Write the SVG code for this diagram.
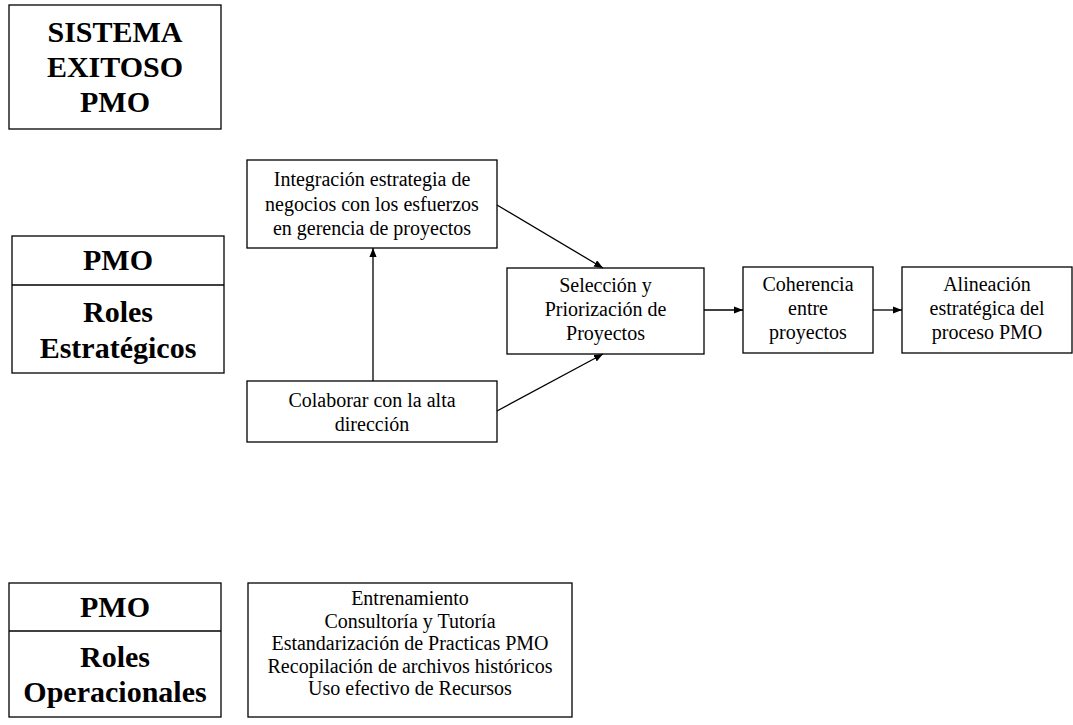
<svg xmlns="http://www.w3.org/2000/svg" width="1073" height="725" viewBox="0 0 1073 725">
  <style>
    .box { fill: #fff; stroke: #000; stroke-width: 1.3; }
    .div { stroke: #000; stroke-width: 1.3; }
    .t { font-family: "Liberation Serif", "Times New Roman", serif; font-size: 20px; fill: #000; text-anchor: middle; }
    .b { font-family: "Liberation Serif", "Times New Roman", serif; font-size: 30px; font-weight: bold; fill: #000; text-anchor: middle; }
    .link { stroke: #000; stroke-width: 1.3; fill: none; marker-end: url(#arrow); }
  </style>
  <defs>
    <marker id="arrow" viewBox="0 0 10 8" refX="10" refY="4" markerWidth="9" markerHeight="7.2" markerUnits="userSpaceOnUse" orient="auto">
      <path d="M0,0 L10,4 L0,8 z" fill="#000"/>
    </marker>
  </defs>
  <rect width="1073" height="725" fill="#fff"/>

  <!-- title block -->
  <g id="sistema-exitoso">
    <rect class="box" x="9" y="5" width="212" height="124"/>
    <text class="b" x="115" y="42">SISTEMA</text>
    <text class="b" x="115" y="77">EXITOSO</text>
    <text class="b" x="115" y="112">PMO</text>
  </g>

  <!-- strategic roles header -->
  <g id="roles-estrategicos">
    <rect class="box" x="12" y="236" width="212" height="137"/>
    <line class="div" x1="12" y1="285" x2="224" y2="285"/>
    <text class="b" x="118" y="270">PMO</text>
    <text class="b" x="118" y="322">Roles</text>
    <text class="b" x="118" y="358">Estratégicos</text>
  </g>

  <!-- operational roles header -->
  <g id="roles-operacionales">
    <rect class="box" x="9" y="583" width="212" height="134"/>
    <line class="div" x1="9" y1="631" x2="221" y2="631"/>
    <text class="b" x="115" y="617">PMO</text>
    <text class="b" x="115" y="667">Roles</text>
    <text class="b" x="115" y="702">Operacionales</text>
  </g>

  <g id="integracion">
    <rect class="box" x="247" y="160" width="250" height="88"/>
    <text class="t" x="372" y="186">Integración estrategia de</text>
    <text class="t" x="372" y="211">negocios con los esfuerzos</text>
    <text class="t" x="372" y="235">en gerencia de proyectos</text>
  </g>

  <g id="colaborar">
    <rect class="box" x="247" y="381" width="250" height="61"/>
    <text class="t" x="372" y="407">Colaborar con la alta</text>
    <text class="t" x="372" y="431">dirección</text>
  </g>

  <g id="seleccion">
    <rect class="box" x="507" y="268" width="197" height="86"/>
    <text class="t" x="605.5" y="292">Selección y</text>
    <text class="t" x="605.5" y="316">Priorización de</text>
    <text class="t" x="605.5" y="340">Proyectos</text>
  </g>

  <g id="coherencia">
    <rect class="box" x="743" y="267" width="130" height="86"/>
    <text class="t" x="808" y="291">Coherencia</text>
    <text class="t" x="808" y="315">entre</text>
    <text class="t" x="808" y="339">proyectos</text>
  </g>

  <g id="alineacion">
    <rect class="box" x="902" y="267" width="170" height="86"/>
    <text class="t" x="987" y="291">Alineación</text>
    <text class="t" x="987" y="315">estratégica del</text>
    <text class="t" x="987" y="339">proceso PMO</text>
  </g>

  <g id="operacional-items">
    <rect class="box" x="248" y="583" width="324" height="134"/>
    <text class="t" x="410" y="605">Entrenamiento</text>
    <text class="t" x="410" y="628">Consultoría y Tutoría</text>
    <text class="t" x="410" y="650">Estandarización de Practicas PMO</text>
    <text class="t" x="410" y="673">Recopilación de archivos históricos</text>
    <text class="t" x="410" y="695">Uso efectivo de Recursos</text>
  </g>

  <!-- connectors -->
  <g id="connectors">
    <line class="link" x1="373" y1="381" x2="373" y2="248"/>
    <line class="link" x1="497" y1="205" x2="603" y2="268"/>
    <line class="link" x1="497" y1="411" x2="603" y2="354"/>
    <line class="link" x1="704" y1="310" x2="743" y2="310"/>
    <line class="link" x1="873" y1="310" x2="902" y2="310"/>
  </g>
</svg>
